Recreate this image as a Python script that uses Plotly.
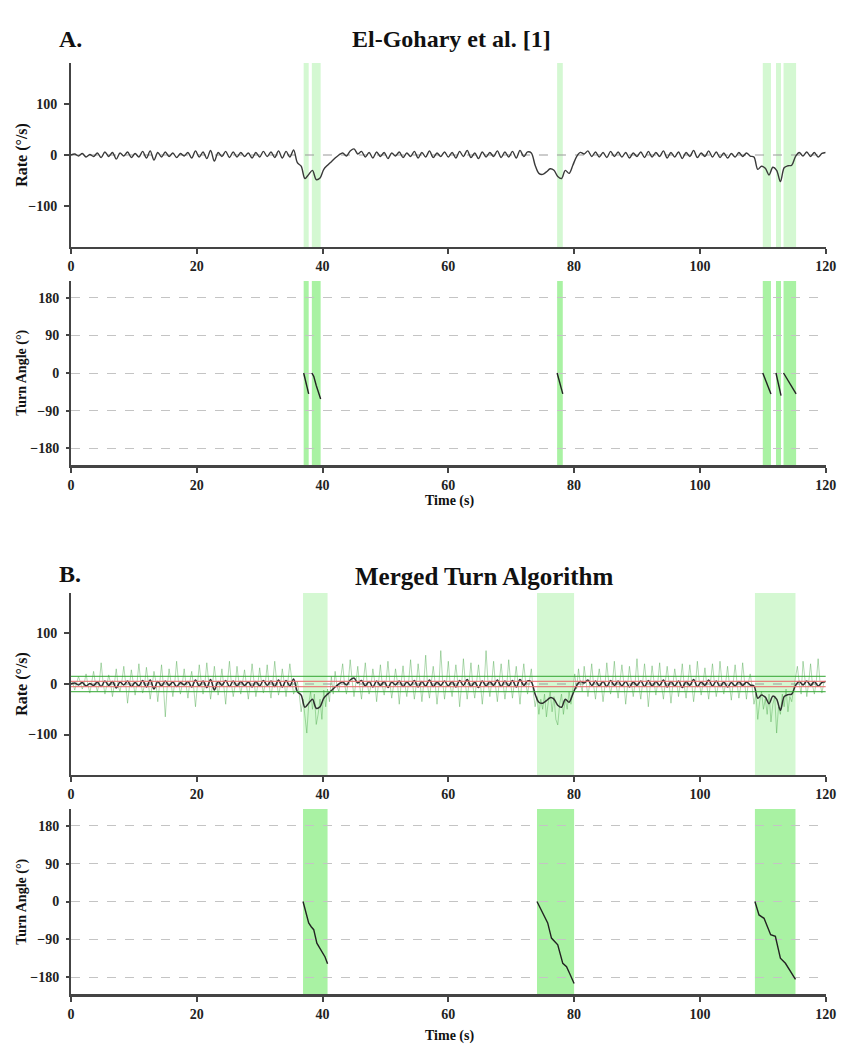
import plotly.graph_objects as go

# ---------------- data ----------------
dt_smooth = 0.6
rate_smooth = [
    0, 2, -2, 3, -4, 1, -3, 4, -5, 6,
    -3, 5, -8, 4, -2, 6, -5, 3, -4, 7,
    -6, 8, -10, 5, -4, 6, -3, 4, -5, 3,
    -2, 5, -6, 8, -4, 6, -7, 9, -12, 5,
    -3, 7, -5, 6, -4, 5, -3, 4, -6, 5,
    -4, 7, -3, 6, -5, 8, -6, 7, -4, 10,
    -15, -22, -46, -38, -30, -48, -45, -28, -20, -13,
    -6, 0, 4, -2, 8, 12, 2, 7, -4, 5,
    -6, 6, -3, 5, -7, 4, -2, 6, -5, 4,
    -3, 7, -6, 5, -4, 8, -5, 4, -3, 6,
    -4, 5, -6, 7, -3, 9, -5, 4, -7, 6,
    -4, 5, -3, 8, -5, 6, -4, 7, -6, 9,
    -3, 6, 4, -20, -36, -38, -33, -27, -30, -42,
    -46, -30, -36, -20, -3, 5, 2, 8, -3, 6,
    -4, 5, -5, 7, -3, 6, -4, 5, -6, 4,
    -3, 6, -5, 7, -4, 5, -3, 8, -6, 5,
    -4, 6, -7, 5, -3, 9, -5, 4, -3, 8,
    -4, 6, -5, 4, -6, 3, -4, 5, -3, 4,
    -2, -4, -28, -22, -26, -39, -24, -30, -52, -25,
    -21, -20, -3, 5, -2, 6, -3, 5, -4, 3,
    5,
]
t_smooth = [round(i * dt_smooth, 2) for i in range(len(rate_smooth))]

dt_raw = 0.3
rate_raw = [
    5, 2, -12, 0, 15, 3, -10, 1,
    20, -2, -18, 3, 25, 0, -15, 2,
    42, 4, -20, -3, 18, 2, -25, 0,
    30, -4, -15, 5, 35, 1, -38, -5,
    28, 3, -22, 2, 40, 4, -18, -2,
    33, 2, -30, -4, 25, 5, -35, 0,
    38, -3, -65, -6, 30, 4, -25, 2,
    45, 3, -20, 0, 30, -2, -28, 4,
    25, -5, -45, -3, 38, 5, -20, 2,
    42, 4, -30, -2, 35, 3, -22, 0,
    30, -4, -40, 5, 45, 2, -25, -3,
    35, 3, -20, 4, 28, -2, -30, 2,
    40, 5, -25, -3, 32, 3, -18, 1,
    38, -2, -28, 4, 45, 5, -22, -4,
    30, 3, -25, 6, 40, 10, -20, -10,
    5, -20, -55, -30, -70, -97, -40, -15,
    -50, -20, -80, -60, -30, -70, -12, -45,
    -10, -35, 15, -20, 25, -5, -15, 10,
    40, 0, -20, 5, 48, 8, -25, 2,
    35, -3, -30, 6, 42, 2, -20, -4,
    30, 5, -35, 2, 38, -2, -22, 4,
    45, 3, -28, -3, 30, 4, -40, 2,
    36, -2, -25, 5, 48, 3, -30, -2,
    40, 4, -35, 2, 57, -3, -28, 3,
    35, 2, -40, -4, 66, 5, -30, 2,
    45, -2, -25, 4, 38, 3, -45, -3,
    50, 3, -30, 2, 42, -3, -28, 4,
    38, 2, -40, -2, 66, 5, -25, 3,
    45, -3, -35, 4, 40, 2, -30, -2,
    48, 4, -28, 3, 35, -2, -40, 5,
    40, 3, -20, 6, 30, -15, -45, -25,
    -60, -30, -50, -20, -65, -35, -15, -55,
    -25, -70, -81, -40, -20, -60, -30, -50,
    -15, -40, -5, 20, -10, 30, 0, -15,
    35, 5, -25, 3, 40, -2, -30, 4,
    30, 2, -35, -3, 42, 4, -20, 2,
    45, -2, -28, 5, 38, 3, -40, -3,
    35, 4, -25, 2, 50, -2, -30, 3,
    40, 3, -45, -4, 36, 5, -22, 2,
    42, -3, -30, 4, 35, 2, -38, -2,
    30, 5, -25, 3, 40, -2, -28, 4,
    38, 2, -35, -3, 45, 4, -22, 2,
    32, -2, -30, 5, 40, 3, -25, -3,
    45, 4, -20, 2, 35, -2, -32, 3,
    38, 3, -28, -4, 42, 5, -30, 2,
    20, -5, -40, -20, -70, -35, -15, -50,
    -30, -60, -20, -75, -40, -25, -97, -45,
    -60, -20, -45, -10, -55, -25, -35, -10,
    10, 35, 2, -20, 45, 5, -25, 3,
    40, -2, -20, 4, 50, 3, -18, 2,
    5,
]
t_raw = [round(i * dt_raw, 2) for i in range(len(rate_raw))]

# detected turn windows (s)
a_turn_start = [37.0, 38.3, 77.3, 110.0, 112.1, 113.3]
a_turn_end = [37.8, 39.7, 78.2, 111.3, 112.9, 115.3]
b_turn_start = [36.9, 74.1, 108.75]
b_turn_end = [40.8, 80.0, 115.2]

# turn angle traces per detected turn
a_angle_t = [
    [37.0, 37.4, 37.8],
    [38.3, 38.6, 39.0, 39.7],
    [77.3, 77.7, 78.2],
    [110.0, 110.6, 111.3],
    [112.1, 112.5, 112.9],
    [113.3, 113.7, 114.5, 115.3],
]
a_angle_v = [
    [0, -25, -50],
    [0, -8, -30, -62],
    [0, -25, -50],
    [0, -25, -50],
    [0, -28, -54],
    [0, -10, -32, -50],
]
b_angle_t = [
    [36.9, 37.3, 37.8, 38.2, 38.6, 39.1, 39.5, 39.9, 40.4, 40.8],
    [74.1, 75.0, 75.8, 76.4, 76.9, 77.4, 78.2, 78.8, 79.4, 80.0],
    [108.75, 109.4, 110.2, 111.25, 112.0, 112.8, 113.6, 114.4, 115.2],
]
b_angle_v = [
    [0, -25, -51, -60, -67, -99, -110, -119, -132, -148],
    [0, -28, -51, -87, -95, -103, -147, -155, -175, -195],
    [0, -32, -40, -79, -83, -135, -147, -165, -185],
]

threshold_outer = [15, -15]
threshold_inner = [5, -5]

x_ticks = [0, 20, 40, 60, 80, 100, 120]
rate_ticks = [-100, 0, 100]
angle_ticks = [-180, -90, 0, 90, 180]

# ---------------- figure ----------------
W, H = 867, 1050
OFF = 8  # page body margin
FONT = "Liberation Serif"
AX = "#444444"
RATE_SHADE = "#d4f8d2"
ANGLE_SHADE = "#a9f2a3"

def px_x(px):
    return (px - OFF) / W

def py(px):
    return 1 - (px - OFF) / H

xdom = [px_x(68), px_x(836)]
panels = {
    1: [py(247), py(63)],
    2: [py(465), py(281)],
    3: [py(775), py(593)],
    4: [py(994), py(809)],
}

fig = go.Figure()

def join(ts, vs):
    X, Y = [], []
    for t, v in zip(ts, vs):
        X += t + [None]
        Y += v + [None]
    return X, Y

# Panel A rate
fig.add_trace(go.Scatter(x=t_smooth, y=rate_smooth, mode="lines",
                         line=dict(color="#3a3a3a", width=1.4, shape="spline", smoothing=0.9),
                         xaxis="x", yaxis="y", showlegend=False))
# Panel A angle
X, Y = join(a_angle_t, a_angle_v)
fig.add_trace(go.Scatter(x=X, y=Y, mode="lines", line=dict(color="#222", width=1.4),
                         xaxis="x2", yaxis="y2", showlegend=False, connectgaps=False))
# Panel B rate: raw
fig.add_trace(go.Scatter(x=t_raw, y=rate_raw, mode="lines",
                         line=dict(color="rgba(80,170,80,0.5)", width=0.9),
                         xaxis="x3", yaxis="y3", showlegend=False))
fig.add_trace(go.Scatter(x=t_smooth, y=rate_smooth, mode="lines",
                         line=dict(color="#2e2e2e", width=1.5, shape="spline", smoothing=0.9),
                         xaxis="x3", yaxis="y3", showlegend=False))
# Panel B angle
X, Y = join(b_angle_t, b_angle_v)
fig.add_trace(go.Scatter(x=X, y=Y, mode="lines", line=dict(color="#222", width=1.4),
                         xaxis="x4", yaxis="y4", showlegend=False, connectgaps=False))

def shade(s, e, xr, yr, color):
    fig.add_shape(type="rect", x0=s, x1=e, y0=0, y1=1, xref=xr, yref=f"{yr} domain",
                  fillcolor=color, line_width=0, layer="below")

# shaded turn windows
for s, e in zip(a_turn_start, a_turn_end):
    shade(s, e, "x", "y", RATE_SHADE)
    shade(s, e, "x2", "y2", ANGLE_SHADE)
for s, e in zip(b_turn_start, b_turn_end):
    shade(s, e, "x3", "y3", RATE_SHADE)
    shade(s, e, "x4", "y4", ANGLE_SHADE)

# zero reference lines in rate panels
for xr, yr in [("x", "y"), ("x3", "y3")]:
    fig.add_shape(type="line", xref=f"{xr} domain", yref=yr, x0=0, x1=1, y0=0, y1=0,
                  line=dict(color="#999", width=1, dash="dash"), layer="below")
# thresholds in panel B
for v in threshold_outer:
    fig.add_shape(type="line", xref="x3 domain", yref="y3", x0=0, x1=1, y0=v, y1=v,
                  line=dict(color="rgba(60,170,60,0.85)", width=1.2))
for v in threshold_inner:
    fig.add_shape(type="line", xref="x3 domain", yref="y3", x0=0, x1=1, y0=v, y1=v,
                  line=dict(color="rgba(235,110,110,0.85)", width=1.2))

tickfont = dict(family=FONT, size=14, color="#222", weight="bold")

def xaxis(i, anchor, width):
    return dict(domain=xdom, range=[0, 120], anchor=anchor, tickvals=x_ticks,
                showline=True, linecolor=AX, linewidth=width, ticks="outside",
                ticklen=5, tickwidth=2, tickcolor=AX, showgrid=False, zeroline=False,
                tickfont=tickfont, ticklabelstandoff=0)

def yaxis(i, anchor, rng, tv, grid):
    return dict(domain=panels[i], range=rng, anchor=anchor, tickvals=tv,
                showline=True, linecolor=AX, linewidth=2, ticks="outside",
                ticklen=5 if not grid else 3, tickwidth=2, tickcolor=AX,
                showgrid=grid, gridcolor="#c4c4c4", griddash="dash", gridwidth=1,
                zeroline=False, tickfont=tickfont, ticklabelstandoff=4)

fig.update_layout(
    width=W, height=H, margin=dict(l=0, r=0, t=0, b=0),
    plot_bgcolor="white", paper_bgcolor="white",
    xaxis=xaxis(1, "y", 2), yaxis=yaxis(1, "x", [-180, 180], rate_ticks, False),
    xaxis2=xaxis(2, "y2", 3), yaxis2=yaxis(2, "x2", [-220, 220], angle_ticks, True),
    xaxis3=xaxis(3, "y3", 2), yaxis3=yaxis(3, "x3", [-180, 180], rate_ticks, False),
    xaxis4=xaxis(4, "y4", 3), yaxis4=yaxis(4, "x4", [-220, 220], angle_ticks, True),
)

def ann(text, xpx, ypx, size, angle=0, xanchor="center"):
    fig.add_annotation(text=text, x=px_x(xpx), y=py(ypx), xref="paper", yref="paper",
                       showarrow=False, textangle=angle, xanchor=xanchor, yanchor="middle",
                       font=dict(family=FONT, size=size, color="#111", weight="bold"))

ann("A.", 54, 39, 24, xanchor="left")
ann("El-Gohary et al. [1]", 455, 39, 24)
ann("B.", 54, 574, 24, xanchor="left")
ann("Merged Turn Algorithm", 355, 576, 25, xanchor="left")
ann("Rate (°/s)", 18, 155, 16, angle=-90)
ann("Turn Angle (°)", 18, 373, 14, angle=-90)
ann("Rate (°/s)", 18, 684, 16, angle=-90)
ann("Turn Angle (°)", 18, 902, 14, angle=-90)
ann("Time (s)", 453, 501, 14)
ann("Time (s)", 453, 1036, 14)

fig.write_html("out.html")
